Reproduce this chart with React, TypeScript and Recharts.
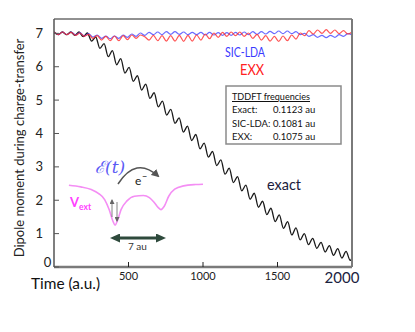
import React from 'react';
import { LineChart, Line, XAxis, YAxis } from 'recharts';

// exact dipole moment (a.u. time, sampled at half periods)
const exactT = [0, 28, 56, 84, 112, 140, 168, 196, 224, 252, 280, 308, 336, 364, 392, 420, 448, 476, 504, 532,
  560, 588, 616, 644, 672, 700, 728, 756, 784, 812, 840, 868, 896, 924, 952, 980, 1008, 1036, 1064, 1092,
  1120, 1148, 1176, 1204, 1232, 1260, 1288, 1316, 1344, 1372, 1400, 1428, 1456, 1484, 1512, 1540, 1568, 1596,
  1624, 1652, 1680, 1708, 1736, 1764, 1792, 1820, 1848, 1876, 1904, 1932, 1960, 1988, 2000];
const exactV = [
  7.04, 6.96, 7.04, 6.96, 7.04, 6.94, 7.04, 6.90, 7.01, 6.77,
  6.89, 6.55, 6.69, 6.30, 6.48, 6.06, 6.24, 5.81, 5.98, 5.56,
  5.73, 5.30, 5.48, 5.05, 5.22, 4.80, 4.97, 4.55, 4.72, 4.30,
  4.47, 4.04, 4.22, 3.79, 3.97, 3.54, 3.71, 3.29, 3.46, 3.04,
  3.21, 2.78, 2.96, 2.53, 2.71, 2.28, 2.45, 2.03, 2.21, 1.79,
  1.97, 1.57, 1.76, 1.36, 1.56, 1.16, 1.36, 0.96, 1.17, 0.81,
  1.00, 0.67, 0.86, 0.56, 0.74, 0.45, 0.64, 0.35, 0.55, 0.27,
  0.47, 0.20, 0.28];

// SIC-LDA and EXX
const tddftT = [0, 29, 58, 87, 116, 145, 174, 203, 232, 261, 290, 319, 348, 377, 406, 435, 464, 493, 522, 551,
  580, 609, 638, 667, 696, 725, 754, 783, 812, 841, 870, 899, 928, 957, 986, 1015, 1044, 1073, 1102, 1131,
  1160, 1189, 1218, 1247, 1276, 1305, 1334, 1363, 1392, 1421, 1450, 1479, 1508, 1537, 1566, 1595, 1624, 1653,
  1682, 1711, 1740, 1769, 1798, 1827, 1856, 1885, 1914, 1943, 1972, 2000];
const sicV = [
  7.04, 6.96, 7.04, 6.96, 7.04, 6.95, 7.02, 6.92, 6.99, 6.89,
  6.95, 6.85, 6.92, 6.84, 6.92, 6.85, 6.95, 6.88, 6.98, 6.91,
  7.01, 6.94, 7.03, 6.96, 7.04, 6.96, 7.05, 6.97, 7.05, 6.97,
  7.04, 6.96, 7.03, 6.96, 7.03, 6.95, 7.03, 6.95, 7.02, 6.94,
  7.02, 6.94, 7.03, 6.95, 7.04, 6.96, 7.05, 6.97, 7.05, 6.98,
  7.06, 6.99, 7.07, 6.99, 7.07, 6.99, 7.05, 6.96, 7.00, 6.91,
  6.96, 6.88, 6.94, 6.87, 6.94, 6.88, 6.96, 6.91, 6.99, 6.95];
const exxV = [
  7.04, 6.96, 7.04, 6.96, 7.03, 6.94, 7.01, 6.91, 6.97, 6.85,
  6.93, 6.80, 6.91, 6.78, 6.92, 6.78, 6.93, 6.81, 6.95, 6.85,
  6.95, 6.90, 6.80, 6.94, 6.78, 6.93, 6.77, 6.93, 6.77, 6.94,
  6.76, 6.94, 6.77, 6.95, 6.80, 6.98, 6.84, 7.01, 6.88, 7.03,
  6.91, 7.04, 6.93, 7.04, 6.91, 7.01, 6.85, 6.97, 6.80, 6.93,
  6.77, 6.91, 6.76, 6.92, 6.78, 6.95, 6.83, 7.01, 6.93, 7.08,
  6.98, 7.10, 7.00, 7.11, 7.00, 7.10, 6.99, 7.08, 6.98, 7.04];

// inset: external potential sketch
const vextT = [100, 180, 250, 300, 340, 370, 395, 410, 425, 450, 490, 540, 600, 640, 670, 700, 718, 740, 770, 810, 870, 950, 1000];
const vextV = [2.45, 2.40, 2.32, 2.20, 2.02, 1.72, 1.38, 1.25, 1.38, 1.72, 1.98, 2.12, 2.14, 2.08, 1.95, 1.78, 1.72, 1.82, 2.12, 2.33, 2.43, 2.47, 2.48];

const xTicks = [500, 1000, 1500, 2000];
const yTicks = [0, 1, 2, 3, 4, 5, 6, 7];
const freqRows = [
  ['Exact:', '0.1123 au'],
  ['SIC-LDA:', '0.1081 au'],
  ['EXX:', '0.1075 au'],
];

const exactData = exactT.map((t, i) => ({ t, v: exactV[i] }));
const tddftData = tddftT.map((t, i) => ({ t, sic: sicV[i], exx: exxV[i] }));
const vextData = vextT.map((t, i) => ({ t, v: vextV[i] }));

const FONT = "Lato, 'DejaVu Sans', sans-serif";

const YTick = (p: any) => {
  if (p.payload.value === 0)
    return <text x={p.x + 4.5} y={p.y - 0.5} textAnchor="middle" fontSize={13} fill="#222" fontFamily={FONT}>0</text>;
  return <text x={p.x} y={p.y + 4.5} textAnchor="end" fontSize={13} fill="#222" fontFamily={FONT}>{p.payload.value}</text>;
};

const XTick = (p: any) => {
  const big = p.payload.value === 2000;
  return (
    <text x={big ? p.x - 10 : p.x} y={p.y + (big ? 11 : 8)} textAnchor="middle"
      fontSize={big ? 15 : 11} fill={big ? '#1a2240' : '#222'} fontFamily={FONT}>{p.payload.value}</text>
  );
};

export default function App() {
  return (
    <div style={{ position: 'absolute', left: 0, top: 0, width: 415, height: 332, background: '#fff' }}>
      <LineChart width={415} height={332} margin={{ top: 18, right: 62, bottom: 35, left: 0 }}>
        <XAxis dataKey="t" type="number" domain={[0, 2000]} ticks={xTicks} allowDataOverflow
          tickSize={-5} tickMargin={10} tick={XTick} height={30}
          axisLine={{ stroke: '#7a7a7a', strokeWidth: 2.5 }} tickLine={{ stroke: '#222' }} />
        <XAxis xAxisId="top" orientation="top" type="number" domain={[0, 2000]} ticks={[500, 1000, 1500]}
          tickSize={-5} tick={false} height={1}
          axisLine={{ stroke: '#222', strokeWidth: 1 }} tickLine={{ stroke: '#222' }} />
        <YAxis type="number" domain={[0, 7.43]} ticks={yTicks} allowDataOverflow width={54}
          tickSize={-5} tickMargin={16} tick={YTick}
          axisLine={{ stroke: '#555', strokeWidth: 1.5 }} tickLine={{ stroke: '#555' }} />
        <YAxis yAxisId="right" orientation="right" type="number" domain={[0, 7.43]} ticks={[1, 2, 3, 4, 5, 6, 7]}
          tickSize={-5} tick={false} width={1}
          axisLine={{ stroke: '#7a7a7a', strokeWidth: 2 }} tickLine={{ stroke: '#444' }} />
        <Line data={vextData} dataKey="v" type="monotone" stroke="#f48ef4" strokeWidth={1.6} dot={false} isAnimationActive={false} />
        <Line data={exactData} dataKey="v" type="monotone" stroke="#1a1a1a" strokeWidth={1.3} dot={false} isAnimationActive={false} />
        <Line data={tddftData} dataKey="sic" type="monotone" stroke="#4646ff" strokeOpacity={0.8} strokeWidth={1.2} dot={false} isAnimationActive={false} />
        <Line data={tddftData} dataKey="exx" type="monotone" stroke="#ff2a2a" strokeOpacity={0.8} strokeWidth={1.2} dot={false} isAnimationActive={false} />
      </LineChart>

      <svg width={415} height={332} style={{ position: 'absolute', left: 0, top: 0, pointerEvents: 'none' }} fontFamily={FONT}>
        <defs>
          <marker id="gray" markerWidth="8" markerHeight="8" refX="6" refY="4" orient="auto" markerUnits="userSpaceOnUse">
            <path d="M0,0 L8,4 L0,8 z" fill="#555" />
          </marker>
          <marker id="small" markerWidth="5" markerHeight="5" refX="4" refY="2.5" orient="auto" markerUnits="userSpaceOnUse">
            <path d="M0,0 L5,2.5 L0,5 z" fill="#666" />
          </marker>
          <marker id="green" markerWidth="10" markerHeight="9" refX="3" refY="4.5" orient="auto-start-reverse" markerUnits="userSpaceOnUse">
            <path d="M0,0 L10,4.5 L0,9 z" fill="#2e4a3c" />
          </marker>
        </defs>

        <text transform="translate(24,148) rotate(-90)" textAnchor="middle" fontSize={13} fill="#222">Dipole moment during charge-transfer</text>
        <text x={31} y={289} fontSize={16} fill="#111" textLength={69} lengthAdjust="spacingAndGlyphs">Time (a.u.)</text>

        <text x={225} y={57} fontSize={14} fill="#3a3aff" textLength={40} lengthAdjust="spacingAndGlyphs">SIC-LDA</text>
        <text x={240} y={75} fontSize={15} fill="#ff2020" textLength={24} lengthAdjust="spacingAndGlyphs">EXX</text>

        <rect x={226} y={86} width={115} height={58} fill="#fff" stroke="#8a8a8a" strokeWidth={1.5} />
        <text x={232} y={100} fontSize={10} fill="#111" textDecoration="underline" textLength={78} lengthAdjust="spacingAndGlyphs">TDDFT frequencies</text>
        {freqRows.map((r, i) => (
          <g key={r[0]}>
            <text x={232} y={113 + i * 13.5} fontSize={9.5} fill="#111">{r[0]}</text>
            <text x={273} y={113 + i * 13.5} fontSize={9.5} fill="#111">{r[1]}</text>
          </g>
        ))}

        <text x={267} y={190} fontSize={16} fill="#1c1c3c" textLength={34} lengthAdjust="spacingAndGlyphs">exact</text>

        <text x={95} y={173} fontSize={17} fontStyle="italic" fill="#5b5bf5" fontFamily="'DejaVu Serif', serif">ℰ(t)</text>
        <path d="M118,184 Q136,156 158,176" fill="none" stroke="#555" strokeWidth={1.5} markerEnd="url(#gray)" />
        <text x={135} y={185} fontSize={12} fill="#222">e</text>
        <text x={142} y={180} fontSize={9} fill="#222">−</text>

        <text x={70} y={207} fontSize={13} fontWeight={700} fill="#ff40ff">V</text>
        <text x={79} y={210} fontSize={8.5} fontWeight={700} fill="#ff40ff">ext</text>
        <line x1={112} y1={217} x2={112} y2={200} stroke="#666" strokeWidth={0.8} markerEnd="url(#small)" />
        <line x1={117} y1={202} x2={117} y2={221} stroke="#666" strokeWidth={0.8} markerEnd="url(#small)" />

        <line x1={117} y1={238} x2={159} y2={238} stroke="#2e4a3c" strokeWidth={3} markerStart="url(#green)" markerEnd="url(#green)" />
        <text x={128} y={250} fontSize={10} fill="#333">7 au</text>
      </svg>
    </div>
  );
}
